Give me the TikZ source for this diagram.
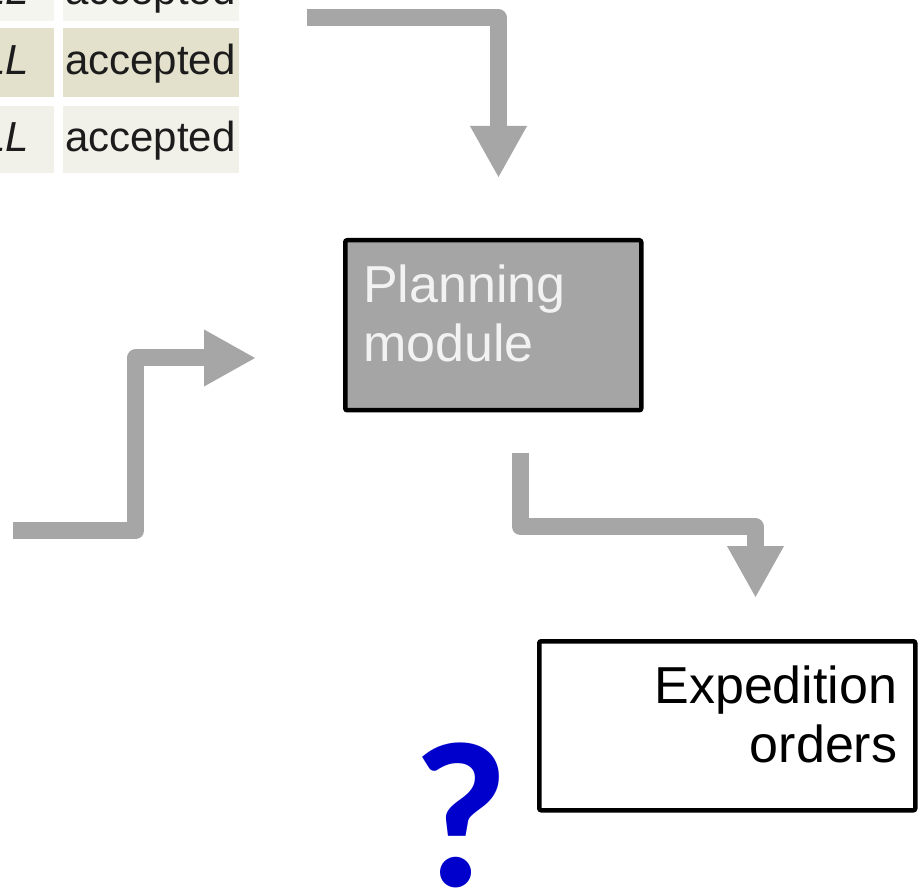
\documentclass[tikz,border=0pt]{standalone}
\usepackage{fontspec}
\setmainfont{Liberation Sans}
\newfontfamily\qfont{Carlito}
\usetikzlibrary{arrows.meta, positioning}
\definecolor{arrowgray}{HTML}{A6A6A6}
\definecolor{boxgray}{HTML}{A5A5A5}
\definecolor{qblue}{HTML}{0000CC}
\definecolor{rowbeige}{HTML}{E3E0CC}
\definecolor{rowlight}{HTML}{F1F0E9}
\definecolor{celltext}{HTML}{1C1C1C}
\tikzset{
  flow/.style={draw=arrowgray, line width=17pt, line join=round,
    -{Triangle[width=53pt, length=52pt]}},
  modulebox/.style={draw, line width=4.5pt, rounded corners=2pt,
    inner sep=18pt, text height=44pt, font=\fontsize{52}{59}\selectfont},
  celltxt/.style={text=celltext, inner sep=0pt, font=\fontsize{42}{48}\selectfont},
}

\begin{document}
\begin{tikzpicture}[x=1pt, y=-1pt]
  \useasboundingbox (0,0) rectangle (919,890);
  % piece of the order table
  \fill[rowlight!70!white] (0,-10) rectangle (54,21);
  \fill[rowlight!70!white] (63,-10) rectangle (239,21);
  \fill[rowbeige] (0,28) rectangle (54,97);
  \fill[rowbeige] (63,28) rectangle (239,97);
  \fill[rowlight] (0,106) rectangle (54,173);
  \fill[rowlight] (63,106) rectangle (239,173);
  \node[celltxt, anchor=base west] (state0) at (65,5) {accepted};
  \node[celltxt, anchor=base west] (state1) at (65,75) {accepted};
  \node[celltxt, anchor=base west] (state2) at (65,152) {accepted};
  \node[celltxt, anchor=base east] (key0) at (29,5) {\itshape LL};
  \node[celltxt, anchor=base east] (key1) at (29,75) {\itshape LL};
  \node[celltxt, anchor=base east] (key2) at (29,152) {\itshape LL};
  % modules
  \node[modulebox, fill=boxgray, text=white!95!black, text width=260pt,
    text depth=90pt, align=left, anchor=north west] (planning) at (343,238)
    {Planning\\module};
  \node[modulebox, fill=white, text width=340pt, text depth=89pt,
    align=right, anchor=north west] (expedition) at (537,639)
    {Expedition\\orders};
  \node[text=qblue, inner sep=0pt, anchor=base,
    font=\qfont\bfseries\fontsize{208}{208}\selectfont] (question) at (461,886) {?};
  % arrows
  \coordinate (orders-in) at (307,18);
  \coordinate (planning-top) at (498.5,178);
  \coordinate (stock-in) at (13,531);
  \coordinate (stock-turn) at (135.5,358);
  \coordinate (planning-left) at (256,358);
  \coordinate (planning-out) at (520.5,453);
  \coordinate (expedition-turn) at (755.5,527);
  \coordinate (expedition-top) at (755.5,598);
  \draw[flow] (orders-in) -| (planning-top);
  \draw[flow] (stock-in) -| (stock-turn) -- (planning-left);
  \draw[flow] (planning-out) |- (expedition-turn) -- (expedition-top);
\end{tikzpicture}
\end{document}
